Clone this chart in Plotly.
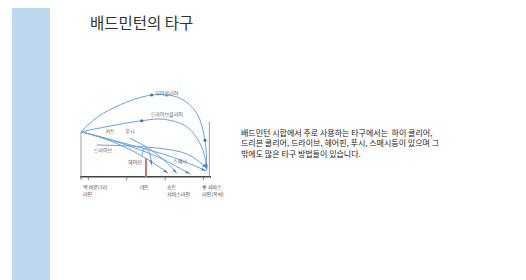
import plotly.graph_objects as go

# page body has an 8px margin, so the figure is sized to fill the remaining window
OFF = 8
W, H = 526 - OFF, 280 - OFF

# Shot trajectories (court distance in m from back boundary line, height in m)
high_clear_x = [0, 2.3, 7.29, 10.21, 11.93, 12.78, 12.96]
high_clear_y = [4.64, 6.54, 8.42, 8.08, 6.54, 3.75, 0.69]
driven_clear_x = [0, 6.26, 8.49, 10.9, 12.44, 12.96]
driven_clear_y = [4.64, 5.77, 5.92, 5.15, 3.09, 0.87]
cut_x = [0, 3.0, 6.0, 8.97]
cut_y = [4.64, 3.7, 2.3, 0.38]
smash_x = [0, 4.0, 8.0, 11.24]
smash_y = [4.64, 3.5, 2.0, 0.28]
long_x = [0, 5.0, 9.5, 12.9]
long_y = [4.64, 3.3, 2.0, 0.6]
drive_x = [1.62, 7.84, 11.0, 12.96]
drive_y = [3.27, 2.96, 2.3, 0.9]
push_x = [5.05, 7.0, 8.7, 9.87]
push_y = [3.98, 2.9, 1.6, 0.35]
hairpin_x = [6.26, 6.6, 7.0, 7.29]
hairpin_y = [2.13, 2.96, 2.6, 1.2]

shot_labels = ["하이클리어", "드라이브클리어", "커트", "푸시", "드라이브", "헤어핀", "스매시"]
label_x = [8.84, 8.84, 2.99, 5.05, 2.27, 5.57, 10.2]
label_y = [8.52, 6.36, 4.6, 4.6, 2.68, 1.44, 1.55]

court_lines = [0, 0.76, 4.72, 8.68, 12.64]
net_pos, net_height = 6.7, 1.9
bottom_labels = ["백 바운더리<br>라인", "네트", "쇼트<br>서비스라인", "롱 서비스<br>라인(복식)"]
bottom_x = [0, 6.6, 8.66, 12.27]
bottom_anchor = ["left", "center", "left", "left"]

title = "배드민턴의 타구"
body_lines = ["배드민턴 시합에서 주로 사용하는 타구에서는  하이 클리어,",
              "드리븐 클리어, 드라이브, 헤어핀, 푸시, 스매시등이 있으며 그",
              "밖에도 많은 타구 방법들이 있습니다."]

LINE = "#6aa3dc"
ARROW = "#2f6fb5"
FONT = "Noto Sans CJK KR"


def px(x):
    return (x - OFF) / W


def py(y):
    return 1 - (y - OFF) / H


fig = go.Figure()
paths = [(high_clear_x, high_clear_y), (driven_clear_x, driven_clear_y),
         (cut_x, cut_y), (smash_x, smash_y), (long_x, long_y),
         (drive_x, drive_y), (push_x, push_y), (hairpin_x, hairpin_y)]
for sx, sy in paths:
    n = len(sx)
    fig.add_trace(go.Scatter(
        x=sx, y=sy, mode="lines+markers",
        line=dict(color=LINE, width=1, shape="spline", smoothing=1.0),
        marker=dict(symbol="arrow", angleref="previous", color=ARROW,
                    size=[0] * (n - 1) + [5], line=dict(width=0)),
        hoverinfo="skip", showlegend=False))

fig.add_trace(go.Scatter(
    x=[high_clear_x[2], high_clear_x[5], driven_clear_x[1]],
    y=[high_clear_y[2], high_clear_y[5], driven_clear_y[1]],
    mode="markers", marker=dict(symbol="circle", size=3, color=ARROW),
    hoverinfo="skip", showlegend=False))

fig.add_trace(go.Scatter(
    x=label_x, y=label_y, mode="text", text=shot_labels,
    textfont=dict(size=5, color="#555", family=FONT),
    hoverinfo="skip", showlegend=False))

shapes = []
shapes.append(dict(type="rect", xref="paper", yref="paper",
                   x0=px(12), x1=px(50), y0=0, y1=1,
                   fillcolor="#bdd7ee", line=dict(width=0), layer="below"))
shapes.append(dict(type="line", xref="x", yref="y", x0=-0.1, x1=13.4, y0=0, y1=0,
                   line=dict(color="#444", width=1.4)))
for c in court_lines:
    shapes.append(dict(type="line", xref="x", yref="y", x0=c, x1=c, y0=0, y1=-0.35,
                       line=dict(color="#666", width=0.8)))
shapes.append(dict(type="line", xref="x", yref="y", x0=0, x1=0, y0=0, y1=4.64,
                   line=dict(color="#888", width=0.8)))
shapes.append(dict(type="line", xref="x", yref="y", x0=13.23, x1=13.23, y0=0, y1=5.67,
                   line=dict(color="#888", width=0.8)))
shapes.append(dict(type="line", xref="x", yref="y", x0=net_pos, x1=net_pos, y0=0, y1=net_height,
                   line=dict(color="#c27a72", width=2)))

annotations = []
for t, bx, a in zip(bottom_labels, bottom_x, bottom_anchor):
    annotations.append(dict(x=bx, y=-0.45, xref="x", yref="y", text=t, showarrow=False,
                            xanchor=a, yanchor="top", align="left",
                            font=dict(size=5, color="#444", family=FONT)))
annotations.append(dict(x=px(88), y=py(22), xref="paper", yref="paper", text=title,
                        showarrow=False, xanchor="left", yanchor="middle",
                        font=dict(size=15.5, color="#333", family=FONT)))
annotations.append(dict(x=px(239), y=py(143), xref="paper", yref="paper",
                        text="<br>".join(body_lines), showarrow=False,
                        xanchor="left", yanchor="middle", align="left",
                        font=dict(size=8.0, color="#222", family=FONT)))

fig.update_layout(
    width=W, height=H, margin=dict(l=0, r=0, t=0, b=0),
    paper_bgcolor="white", plot_bgcolor="rgba(0,0,0,0)",
    shapes=shapes, annotations=annotations,
    xaxis=dict(range=[-0.1, 13.5], domain=[px(80.03), px(211.95)], visible=False),
    yaxis=dict(range=[-2.5, 9.5], domain=[py(200.95), py(84.55)], visible=False),
)
fig.write_html("out.html")
